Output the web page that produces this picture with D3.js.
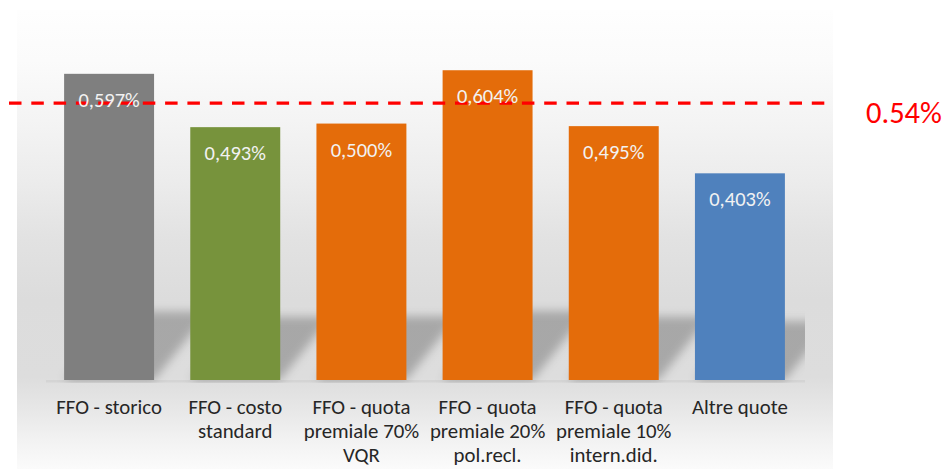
<!DOCTYPE html>
<html>
<head>
<meta charset="utf-8">
<script src="https://cdn.jsdelivr.net/npm/d3@7/dist/d3.min.js"></script>
<style>
  html, body { margin: 0; padding: 0; background: #ffffff; }
  svg { display: block; }
  text { font-family: Carlito, Calibri, Lato, "Open Sans", sans-serif; }
</style>
</head>
<body>
<svg id="chart" width="949" height="469"></svg>
<script>
// Quote di finanziamento (valori in %)
const categories = [
  "FFO - storico",
  "FFO - costo standard",
  "FFO - quota premiale 70% VQR",
  "FFO - quota premiale 20% pol.recl.",
  "FFO - quota premiale 10% intern.did.",
  "Altre quote"
];
const categoryLines = [
  ["FFO - storico"],
  ["FFO - costo", "standard"],
  ["FFO - quota", "premiale 70%", "VQR"],
  ["FFO - quota", "premiale 20%", "pol.recl."],
  ["FFO - quota", "premiale 10%", "intern.did."],
  ["Altre quote"]
];
const values = [0.597, 0.493, 0.500, 0.604, 0.495, 0.403];
const barColors = ["#7f7f7f", "#77933c", "#e46c0a", "#e46c0a", "#e46c0a", "#4f81bd"];
const valueLabels = ["0,597%", "0,493%", "0,500%", "0,604%", "0,495%", "0,403%"];
const referenceValue = 0.54;
const referenceLabel = "0.54%";
const yDomain = [0, 0.7];

const svg = d3.select("#chart");
const defs = svg.append("defs");

// chart area geometry
const area = { left: 17, top: 10, right: 833, bottom: 469 };
const plot = { left: 46, right: 803, clipRight: 805, base: 380, top: 21 };

// soft vertical gradient of the chart area
const bg = defs.append("linearGradient")
  .attr("id", "bgGrad").attr("x1", 0).attr("y1", 0).attr("x2", 0).attr("y2", 1);
[
  [0.00, "#fefefe"], [0.11, "#fbfbfb"], [0.24, "#f4f4f4"], [0.37, "#ececec"],
  [0.50, "#e2e2e2"], [0.63, "#dcdcdc"], [0.80, "#dddddd"], [0.87, "#e7e7e7"],
  [0.93, "#f1f1f1"], [1.00, "#fbfbfb"]
].forEach(([o, c]) => bg.append("stop").attr("offset", o).attr("stop-color", c));

svg.append("rect")
  .attr("x", area.left).attr("y", area.top)
  .attr("width", area.right - area.left).attr("height", area.bottom - area.top)
  .attr("fill", "url(#bgGrad)");

const x = d3.scaleBand()
  .domain(categories)
  .range([plot.left, plot.right])
  .paddingInner(0.287)
  .paddingOuter(0.1435);

const y = d3.scaleLinear().domain(yDomain).range([plot.base, plot.top]);

// perspective shadows behind the bars
defs.append("filter").attr("id", "shadowBlur")
  .attr("x", "-30%").attr("y", "-60%").attr("width", "160%").attr("height", "220%")
  .append("feGaussianBlur").attr("stdDeviation", 5);

defs.append("clipPath").attr("id", "plotClip")
  .append("rect")
  .attr("x", plot.left).attr("y", 0)
  .attr("width", plot.clipRight - plot.left).attr("height", plot.base + 3);

const shadowLayer = svg.append("g").attr("clip-path", "url(#plotClip)");

shadowLayer.append("rect")
  .attr("x", plot.left).attr("y", plot.base)
  .attr("width", plot.clipRight - plot.left).attr("height", 2.5)
  .attr("fill", "#000").attr("fill-opacity", 0.045);

shadowLayer.selectAll("path.shadow")
  .data(categories)
  .join("path")
  .attr("class", "shadow")
  .attr("fill", "#000")
  .attr("fill-opacity", 0.24)
  .attr("filter", "url(#shadowBlur)")
  .attr("d", (c, i) => {
    const H = y(0) - y(values[i]);
    const hs = 0.1 * H + 38;
    const dx = hs * 0.8;
    const x0 = x(c), x1 = x(c) + x.bandwidth();
    const b = plot.base;
    return `M${x0},${b}L${x1},${b}L${x1 + dx},${b - hs}L${x0 + dx},${b - hs}Z`;
  });

// bars
svg.append("g").selectAll("rect")
  .data(categories)
  .join("rect")
  .attr("x", c => x(c))
  .attr("width", x.bandwidth())
  .attr("y", (c, i) => y(values[i]))
  .attr("height", (c, i) => y(0) - y(values[i]))
  .attr("fill", (c, i) => barColors[i]);

// reference threshold
svg.append("line")
  .attr("x1", 9).attr("x2", 828)
  .attr("y1", y(referenceValue)).attr("y2", y(referenceValue))
  .attr("stroke", "#ff0000")
  .attr("stroke-width", 3.2)
  .attr("stroke-dasharray", "12.5 9.8");

svg.append("text")
  .attr("x", 866).attr("y", y(referenceValue) + 20)
  .attr("fill", "#ff0000")
  .attr("font-size", 30.5)
  .text(referenceLabel);

// value labels inside bars
svg.append("g").selectAll("text")
  .data(categories)
  .join("text")
  .attr("x", c => x(c) + x.bandwidth() / 2)
  .attr("y", (c, i) => y(values[i]) + 33)
  .attr("text-anchor", "middle")
  .attr("fill", "#f2f2f2")
  .attr("font-size", 20.5)
  .text((c, i) => valueLabels[i]);

// category axis with wrapped labels
const xAxis = svg.append("g")
  .attr("transform", `translate(0,${plot.base})`)
  .call(d3.axisBottom(x).tickSize(0).tickFormat(""));
xAxis.select(".domain").remove();

xAxis.selectAll(".tick").each(function (c, i) {
  const t = d3.select(this).append("text")
    .attr("y", 33.5)
    .attr("fill", "#262626")
    .attr("font-size", 20.8)
    .attr("text-anchor", "middle");
  categoryLines[i].forEach((line, k) => {
    t.append("tspan").attr("x", 0).attr("dy", k === 0 ? 0 : 24.3).text(line);
  });
});
</script>
</body>
</html>
